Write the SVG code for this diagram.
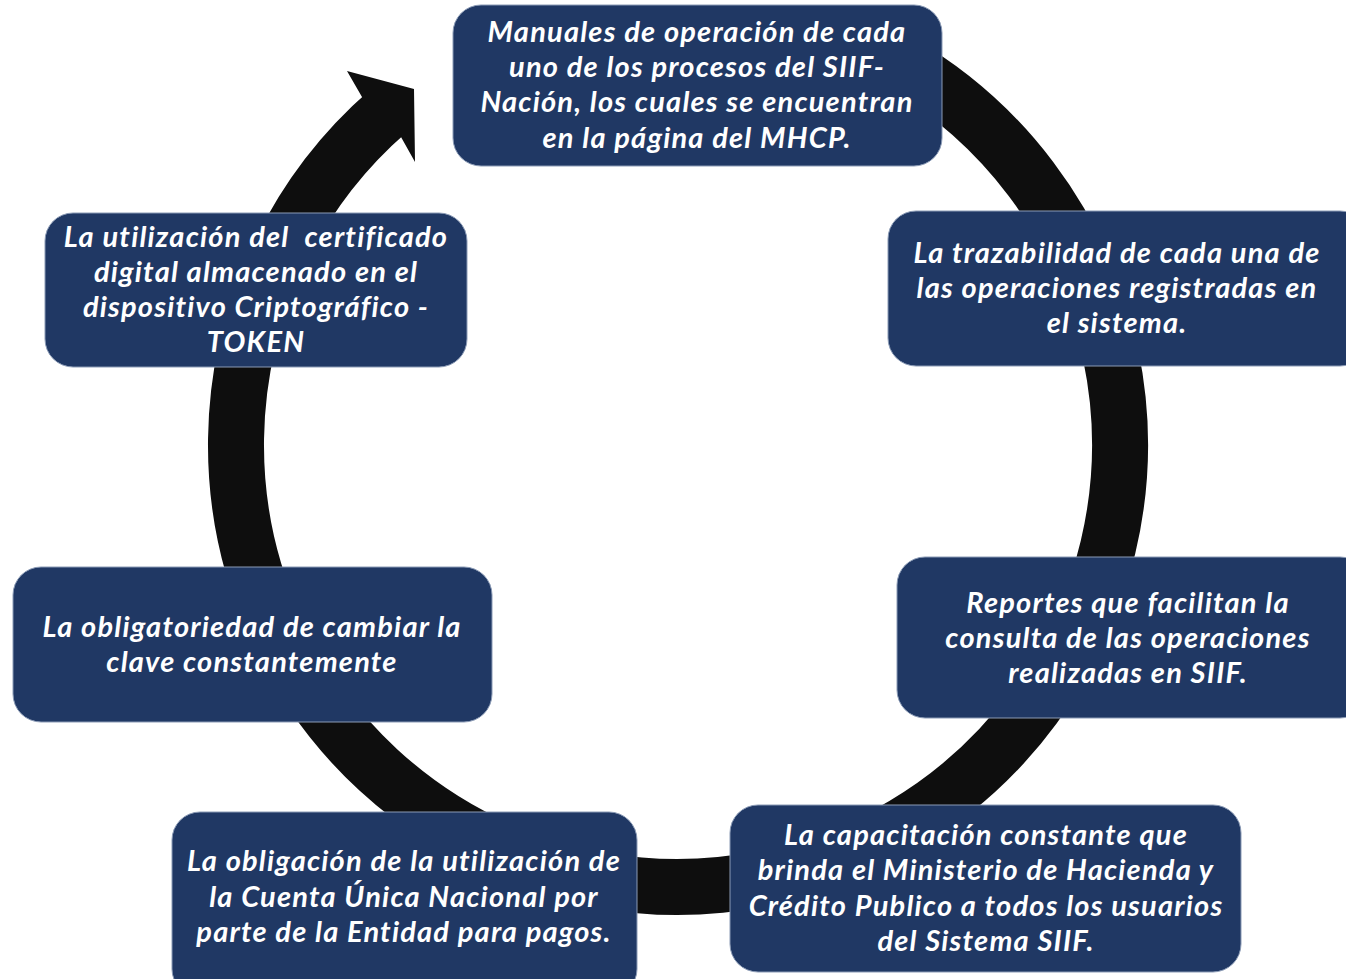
<svg xmlns="http://www.w3.org/2000/svg" width="1346" height="979" viewBox="0 0 1346 979">
<style>
.box{fill:#203864;stroke:#8a9ab5;stroke-width:1}
.t{font-family:"Lato","Liberation Sans",sans-serif;font-weight:700;font-style:italic;font-size:29px;letter-spacing:1.2px;fill:#ffffff;text-anchor:middle;white-space:pre}
.ring{fill:none;stroke:#0e0e0e;stroke-width:56}
</style>
<rect width="1346" height="979" fill="#ffffff"/>
<g id="connectors">
<path class="ring" d="M 899 62.2 A 442 442 0 1 1 388 111.4"/>
<polygon points="362,97 347,71 414,89 415,162 401,137" fill="#0e0e0e"/>
</g>
<g id="n1">
<rect class="box" x="453" y="5" width="489" height="161" rx="28"/>
<text class="t" x="697" y="42">Manuales de operación de cada</text>
<text class="t" x="697" y="77">uno de los procesos del SIIF-</text>
<text class="t" x="697" y="112">Nación, los cuales se encuentran</text>
<text class="t" x="697" y="148">en la página del MHCP.</text>
</g>
<g id="n2">
<rect class="box" x="888" y="211" width="480" height="155" rx="28"/>
<text class="t" x="1117" y="263">La trazabilidad de cada una de</text>
<text class="t" x="1117" y="298">las operaciones registradas en</text>
<text class="t" x="1117" y="333">el sistema.</text>
</g>
<g id="n3">
<rect class="box" x="897" y="557" width="471" height="161" rx="28"/>
<text class="t" x="1128" y="613">Reportes que facilitan la</text>
<text class="t" x="1128" y="648">consulta de las operaciones</text>
<text class="t" x="1128" y="683">realizadas en SIIF.</text>
</g>
<g id="n4">
<rect class="box" x="730" y="805" width="511" height="167" rx="28"/>
<text class="t" x="986" y="845">La capacitación constante que</text>
<text class="t" x="986" y="880">brinda el Ministerio de Hacienda y</text>
<text class="t" x="986" y="916">Crédito Publico a todos los usuarios</text>
<text class="t" x="986" y="951">del Sistema SIIF.</text>
</g>
<g id="n5">
<rect class="box" x="172" y="812" width="465" height="185" rx="28"/>
<text class="t" x="404" y="871">La obligación de la utilización de</text>
<text class="t" x="404" y="907">la Cuenta Única Nacional por</text>
<text class="t" x="404" y="942">parte de la Entidad para pagos.</text>
</g>
<g id="n6">
<rect class="box" x="13" y="567" width="479" height="155" rx="28"/>
<text class="t" x="252" y="637">La obligatoriedad de cambiar la</text>
<text class="t" x="252" y="672">clave constantemente</text>
</g>
<g id="n7">
<rect class="box" x="45" y="213" width="422" height="154" rx="28"/>
<text class="t" x="256" y="247">La utilización del  certificado</text>
<text class="t" x="256" y="282">digital almacenado en el</text>
<text class="t" x="256" y="317">dispositivo Criptográfico -</text>
<text class="t" x="256" y="352">TOKEN</text>
</g>
</svg>
